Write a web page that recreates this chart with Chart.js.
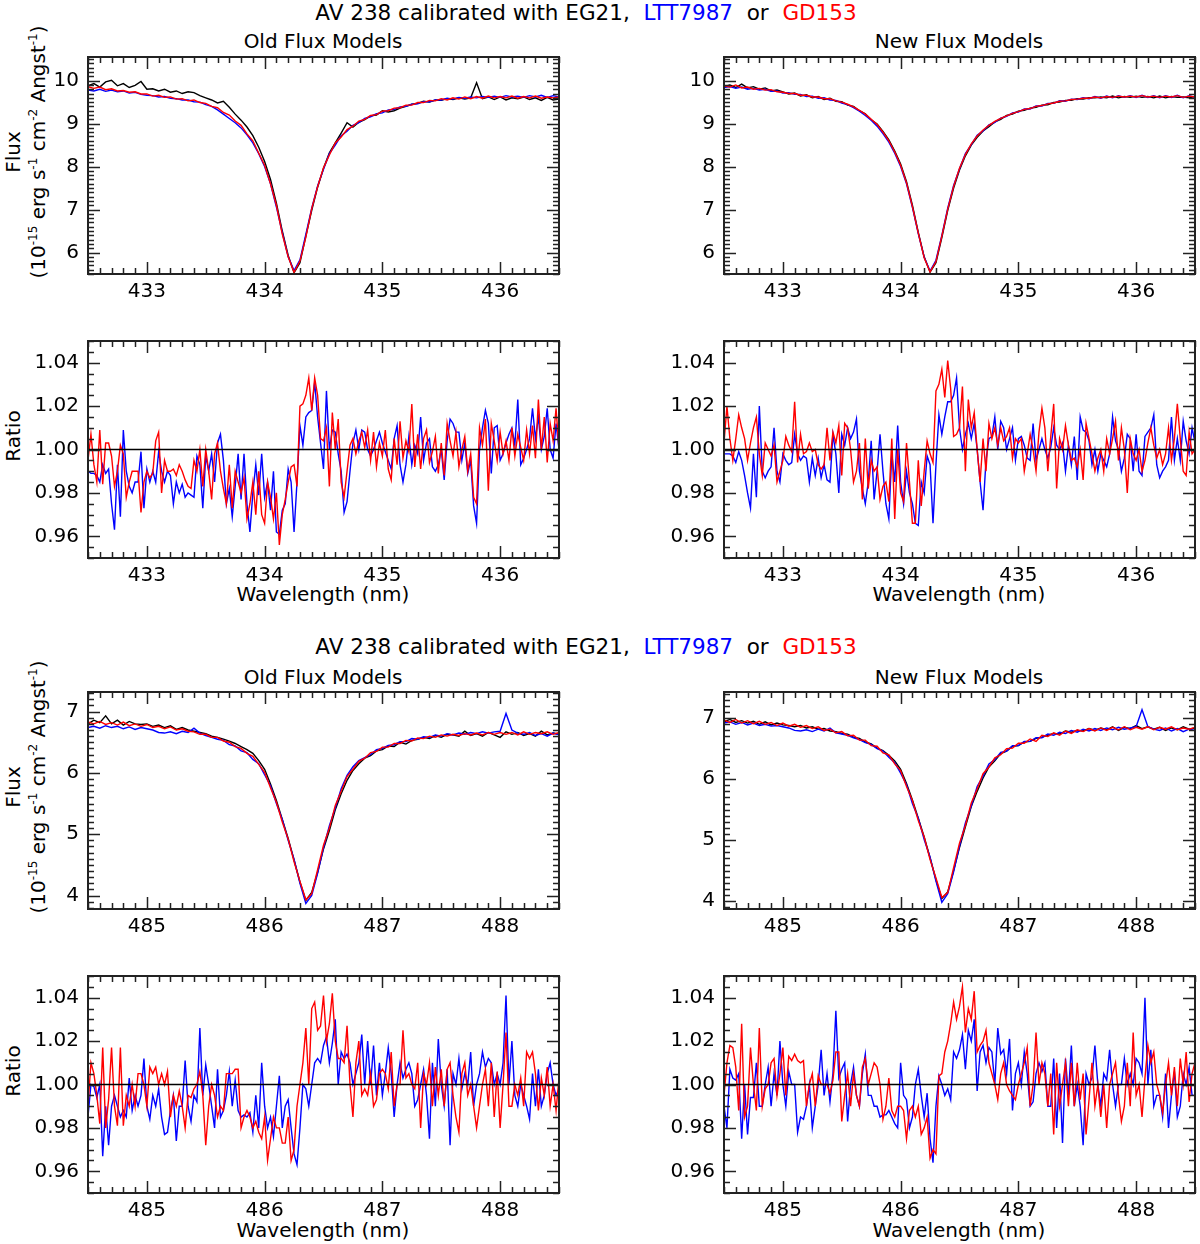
<!DOCTYPE html>
<html>
<head>
<meta charset="utf-8">
<script src="https://cdn.jsdelivr.net/npm/chart.js@4.4.1/dist/chart.umd.min.js"></script>
<style>
  body { margin: 0; background: #fff; width: 1200px; height: 1244px; position: relative; overflow: hidden;
         font-family: "DejaVu Sans", sans-serif; color: #000; }
  canvas { position: absolute; }
  .t { position: absolute; white-space: pre; font-size: 20px; line-height: 1; transform: translate(-50%, -50%); }
  .big { font-size: 21.5px; }
  .v { transform: translate(-50%, -50%) rotate(-90deg); }
  .s { font-size: 12px; position: relative; top: -8px; }
  .blue { color: #0000ff; }
  .red { color: #ff0000; }
</style>
</head>
<body>

<div class="t big" style="left:586px;top:13px">AV 238 calibrated with EG21,  <span class="blue">LTT7987</span>  or  <span class="red">GD153</span></div>
<div class="t" style="left:323px;top:41px">Old Flux Models</div>
<div class="t" style="left:959px;top:41px">New Flux Models</div>
<div class="t big" style="left:586px;top:647px">AV 238 calibrated with EG21,  <span class="blue">LTT7987</span>  or  <span class="red">GD153</span></div>
<div class="t" style="left:323px;top:677px">Old Flux Models</div>
<div class="t" style="left:959px;top:677px">New Flux Models</div>

<div class="t v" style="left:13px;top:152px">Flux</div>
<div class="t v" style="left:38px;top:152px">(10<span class="s">-15</span> erg s<span class="s">-1</span> cm<span class="s">-2</span> Angst<span class="s">-1</span>)</div>
<div class="t v" style="left:13px;top:436px">Ratio</div>
<div class="t v" style="left:13px;top:787px">Flux</div>
<div class="t v" style="left:38px;top:787px">(10<span class="s">-15</span> erg s<span class="s">-1</span> cm<span class="s">-2</span> Angst<span class="s">-1</span>)</div>
<div class="t v" style="left:13px;top:1071px">Ratio</div>

<div class="t" style="left:323px;top:594px">Wavelength (nm)</div>
<div class="t" style="left:959px;top:594px">Wavelength (nm)</div>
<div class="t" style="left:323px;top:1230px">Wavelength (nm)</div>
<div class="t" style="left:959px;top:1230px">Wavelength (nm)</div>

<canvas id="fluxHgOld"></canvas>
<canvas id="fluxHgNew"></canvas>
<canvas id="ratioHgOld"></canvas>
<canvas id="ratioHgNew"></canvas>
<canvas id="fluxHbOld"></canvas>
<canvas id="fluxHbNew"></canvas>
<canvas id="ratioHbOld"></canvas>
<canvas id="ratioHbNew"></canvas>

<script>
// ---- wavelength grids (nm) ----
function grid(start, step, n) {
  const out = [];
  for (let i = 0; i < n; i++) out.push(+(start + i * step).toFixed(3));
  return out;
}
const wlFluxHg = grid(432.5, 0.05, 81);
const wlFluxHb = grid(484.5, 0.05, 81);
const wlRatioHg = grid(432.5, 0.025, 161);
const wlRatioHb = grid(484.5, 0.025, 161);

// ---- tick labels ----
const wlTicksHg = [433, 434, 435, 436];
const wlTicksHb = [485, 486, 487, 488];
const fluxTicksHg = [6, 7, 8, 9, 10];
const fluxTicksHb = [4, 5, 6, 7];
const ratioTicks = [0.96, 0.98, 1.00, 1.02, 1.04];

// ---- H gamma flux, old models (1e-15 erg/s/cm2/A) ----
const fluxHgOldEG21 = [
  9.88,9.93,9.85,9.97,10.01,9.88,9.93,9.84,9.89,9.98,
  9.80,9.81,9.76,9.80,9.73,9.76,9.70,9.74,9.72,9.65,
  9.60,9.55,9.48,9.52,9.38,9.22,9.08,8.92,8.72,8.45,
  8.12,7.70,7.15,6.50,5.93,5.53,5.76,6.38,6.98,7.52,
  7.96,8.32,8.55,8.78,9.02,8.92,9.03,9.09,9.18,9.20,
  9.30,9.27,9.30,9.36,9.40,9.45,9.47,9.52,9.50,9.55,
  9.54,9.58,9.56,9.60,9.57,9.60,9.95,9.58,9.62,9.56,
  9.62,9.55,9.60,9.58,9.62,9.56,9.60,9.54,9.61,9.55,9.57];
const fluxHgOldLTT7987 = [
  9.78,9.76,9.80,9.75,9.78,9.74,9.76,9.71,9.73,9.68,
  9.66,9.65,9.62,9.63,9.59,9.58,9.55,9.55,9.51,9.50,
  9.44,9.40,9.32,9.22,9.12,9.02,8.90,8.74,8.55,8.30,
  8.00,7.60,7.06,6.46,5.90,5.58,5.83,6.42,7.03,7.55,
  7.94,8.30,8.50,8.72,8.82,8.96,9.02,9.12,9.16,9.23,
  9.25,9.32,9.33,9.39,9.40,9.45,9.46,9.51,9.51,9.55,
  9.55,9.59,9.57,9.61,9.59,9.62,9.60,9.63,9.61,9.64,
  9.61,9.65,9.62,9.64,9.61,9.65,9.62,9.66,9.61,9.65,9.62];
const fluxHgOldGD153 = [
  9.86,9.82,9.85,9.79,9.81,9.76,9.77,9.73,9.74,9.69,
  9.69,9.64,9.66,9.61,9.62,9.57,9.58,9.53,9.55,9.49,
  9.47,9.40,9.37,9.26,9.20,9.06,8.96,8.76,8.60,8.31,
  8.03,7.60,7.10,6.43,5.90,5.54,5.80,6.36,7.02,7.53,
  7.97,8.27,8.55,8.69,8.86,8.94,9.06,9.10,9.19,9.21,
  9.29,9.30,9.36,9.37,9.43,9.43,9.49,9.49,9.54,9.53,
  9.58,9.55,9.60,9.57,9.62,9.58,9.63,9.59,9.64,9.60,
  9.63,9.60,9.64,9.59,9.63,9.60,9.64,9.59,9.62,9.60,9.62];

// ---- H gamma flux, new models ----
const fluxHgNewEG21 = [
  9.86,9.90,9.84,9.92,9.83,9.86,9.80,9.83,9.76,9.78,
  9.74,9.69,9.71,9.64,9.67,9.60,9.63,9.56,9.59,9.52,
  9.51,9.43,9.40,9.30,9.23,9.09,8.99,8.82,8.62,8.36,
  8.06,7.65,7.10,6.47,5.90,5.54,5.76,6.35,6.98,7.50,
  7.92,8.25,8.50,8.68,8.83,8.93,9.04,9.10,9.19,9.22,
  9.29,9.31,9.36,9.38,9.43,9.44,9.49,9.50,9.54,9.54,
  9.58,9.57,9.60,9.60,9.62,9.60,9.64,9.60,9.63,9.61,
  9.64,9.61,9.63,9.60,9.64,9.60,9.63,9.61,9.62,9.60,9.63];
const fluxHgNewLTT7987 = [
  9.84,9.86,9.82,9.85,9.80,9.82,9.78,9.80,9.75,9.76,
  9.71,9.72,9.68,9.68,9.63,9.64,9.59,9.60,9.55,9.54,
  9.48,9.44,9.37,9.29,9.19,9.08,8.94,8.77,8.57,8.31,
  8.00,7.60,7.05,6.44,5.89,5.57,5.82,6.40,7.03,7.56,
  7.95,8.30,8.51,8.73,8.83,8.97,9.03,9.13,9.17,9.25,
  9.27,9.34,9.34,9.41,9.41,9.47,9.47,9.53,9.52,9.57,
  9.56,9.60,9.58,9.63,9.59,9.64,9.60,9.65,9.61,9.65,
  9.61,9.66,9.61,9.65,9.60,9.65,9.61,9.66,9.60,9.65,9.61];
const fluxHgNewGD153 = [
  9.88,9.85,9.90,9.83,9.85,9.80,9.82,9.78,9.79,9.74,
  9.73,9.70,9.70,9.66,9.66,9.62,9.62,9.58,9.58,9.53,
  9.50,9.45,9.39,9.31,9.22,9.10,8.98,8.80,8.60,8.34,
  8.03,7.62,7.07,6.45,5.88,5.55,5.79,6.38,7.01,7.54,
  7.96,8.28,8.53,8.71,8.85,8.96,9.05,9.12,9.18,9.24,
  9.28,9.33,9.35,9.40,9.42,9.46,9.48,9.52,9.53,9.56,
  9.57,9.59,9.59,9.62,9.60,9.63,9.61,9.64,9.62,9.64,
  9.62,9.65,9.62,9.64,9.61,9.64,9.62,9.65,9.61,9.64,9.62];

// ---- H beta flux, old models ----
const fluxHbOldEG21 = [
  6.80,6.86,6.82,6.93,6.80,6.86,6.78,6.84,6.80,6.79,
  6.80,6.76,6.78,6.74,6.77,6.71,6.74,6.70,6.68,6.66,
  6.64,6.60,6.58,6.55,6.52,6.48,6.43,6.38,6.32,6.20,
  6.06,5.82,5.55,5.24,4.93,4.58,4.22,3.92,4.05,4.38,
  4.76,5.06,5.40,5.66,5.88,6.04,6.15,6.24,6.28,6.36,
  6.38,6.44,6.43,6.50,6.47,6.53,6.55,6.58,6.56,6.61,
  6.58,6.63,6.62,6.60,6.68,6.61,6.64,6.60,6.66,6.62,
  6.58,6.67,6.63,6.66,6.61,6.64,6.60,6.68,6.62,6.65,6.63];
const fluxHbOldLTT7987 = [
  6.74,6.76,6.73,6.77,6.74,6.76,6.72,6.75,6.71,6.74,
  6.72,6.70,6.66,6.65,6.67,6.64,6.68,6.66,6.73,6.65,
  6.61,6.58,6.55,6.53,6.46,6.44,6.36,6.33,6.22,6.15,
  5.97,5.79,5.50,5.24,4.90,4.59,4.20,3.87,4.00,4.36,
  4.78,5.14,5.43,5.74,5.96,6.10,6.20,6.25,6.30,6.38,
  6.40,6.45,6.46,6.51,6.51,6.56,6.55,6.59,6.58,6.62,
  6.60,6.64,6.62,6.65,6.63,6.66,6.64,6.67,6.65,6.67,
  6.68,6.97,6.70,6.65,6.63,6.66,6.61,6.64,6.60,6.65,6.62];
const fluxHbOldGD153 = [
  6.83,6.80,6.84,6.79,6.82,6.78,6.83,6.77,6.80,6.76,
  6.79,6.74,6.76,6.72,6.75,6.70,6.72,6.68,6.67,6.63,
  6.63,6.58,6.58,6.52,6.50,6.43,6.40,6.32,6.27,6.14,
  6.01,5.76,5.52,5.20,4.92,4.55,4.23,3.93,4.03,4.42,
  4.82,5.10,5.47,5.70,5.94,6.06,6.19,6.24,6.33,6.35,
  6.42,6.42,6.48,6.48,6.53,6.52,6.57,6.56,6.60,6.58,
  6.62,6.60,6.63,6.61,6.64,6.62,6.65,6.62,6.66,6.63,
  6.66,6.63,6.66,6.62,6.67,6.63,6.66,6.64,6.67,6.63,6.66];

// ---- H beta flux, new models ----
const fluxHbNewEG21 = [
  6.94,6.98,6.93,6.96,6.92,6.95,6.90,6.94,6.89,6.92,
  6.89,6.88,6.86,6.88,6.84,6.86,6.82,6.83,6.79,6.78,
  6.75,6.74,6.69,6.67,6.61,6.58,6.51,6.47,6.39,6.30,
  6.16,5.93,5.66,5.36,5.05,4.71,4.35,4.04,4.15,4.50,
  4.88,5.22,5.55,5.80,6.02,6.20,6.30,6.42,6.46,6.54,
  6.55,6.61,6.62,6.67,6.69,6.72,6.75,6.74,6.79,6.77,
  6.80,6.79,6.83,6.80,6.84,6.81,6.86,6.80,6.85,6.83,
  6.88,6.83,6.86,6.82,6.85,6.80,6.84,6.81,6.86,6.82,6.84];
const fluxHbNewLTT7987 = [
  6.92,6.94,6.90,6.93,6.89,6.92,6.88,6.90,6.87,6.88,
  6.86,6.84,6.80,6.79,6.81,6.78,6.82,6.79,6.84,6.76,
  6.74,6.72,6.68,6.65,6.60,6.57,6.50,6.46,6.36,6.27,
  6.10,5.91,5.60,5.36,5.01,4.72,4.33,3.98,4.12,4.48,
  4.90,5.28,5.56,5.88,6.05,6.25,6.32,6.44,6.46,6.55,
  6.55,6.62,6.62,6.68,6.68,6.74,6.72,6.77,6.75,6.80,
  6.77,6.82,6.79,6.83,6.80,6.84,6.81,6.85,6.82,6.84,
  6.86,7.14,6.86,6.82,6.80,6.84,6.79,6.83,6.78,6.82,6.80];
const fluxHbNewGD153 = [
  6.97,6.93,6.98,6.92,6.96,6.91,6.95,6.90,6.93,6.88,
  6.92,6.87,6.90,6.85,6.88,6.83,6.86,6.80,6.82,6.76,
  6.78,6.71,6.72,6.64,6.64,6.55,6.54,6.43,6.40,6.25,
  6.14,5.88,5.65,5.32,5.05,4.68,4.38,4.06,4.14,4.55,
  4.95,5.24,5.61,5.84,6.09,6.20,6.35,6.40,6.50,6.51,
  6.59,6.59,6.66,6.62,6.72,6.70,6.76,6.72,6.79,6.75,
  6.81,6.78,6.83,6.79,6.84,6.80,6.85,6.81,6.86,6.81,
  6.85,6.82,6.86,6.81,6.85,6.82,6.86,6.81,6.84,6.82,6.85];

// ---- ratios to the EG21 calibration ----
const ratioHgOldLTT7987 = [
  0.990,0.989,0.989,0.988,0.985,0.993,0.989,0.991,0.975,0.963,
  0.993,0.969,1.009,0.990,0.983,0.980,0.985,0.985,0.999,0.973,
  0.991,0.985,0.990,0.985,0.999,0.990,0.985,0.990,0.988,0.975,
  0.985,0.980,0.984,0.978,0.980,0.979,0.978,0.997,0.993,0.973,
  0.997,0.990,0.998,0.985,1.003,1.007,0.995,0.975,0.982,0.969,
  0.983,0.998,0.977,0.998,0.975,0.962,0.980,0.993,0.979,0.998,
  0.978,0.985,0.972,0.990,0.962,0.961,0.972,0.975,0.991,0.985,
  0.962,0.985,1.011,1.002,1.015,1.017,1.018,1.031,1.015,1.003,
  0.991,1.027,1.000,1.009,1.008,0.998,0.990,0.971,0.976,0.990,
  1.003,1.009,1.000,1.009,1.008,1.000,0.997,1.000,1.004,1.008,
  1.003,0.999,0.995,0.991,1.005,1.011,0.993,0.985,0.993,1.006,
  0.993,1.002,0.998,1.015,0.995,1.003,1.005,0.992,0.990,0.993,
  1.000,0.986,1.004,1.014,1.012,1.008,1.008,0.995,1.003,0.989,
  0.995,0.974,0.966,1.000,1.010,1.018,1.012,0.989,1.010,1.011,
  0.995,0.998,1.003,1.007,1.010,1.002,1.023,0.993,0.996,1.000,
  1.005,1.019,1.005,1.015,1.000,1.006,1.019,1.000,0.996,1.012,1.000];
const ratioHgOldGD153 = [
  0.995,1.007,0.993,0.985,1.009,0.984,1.003,1.003,0.997,0.983,
  0.990,1.002,0.998,0.978,0.985,0.990,0.990,0.990,0.971,0.985,
  0.990,0.987,0.989,1.004,1.008,0.980,0.995,0.990,0.990,0.991,
  0.988,0.993,0.990,0.986,0.983,0.982,0.995,0.990,1.000,0.983,
  1.000,0.990,0.977,0.998,1.003,0.990,0.982,0.975,0.993,0.973,
  0.990,0.985,0.980,0.987,0.968,0.975,0.985,0.970,0.990,0.970,
  0.966,0.985,0.978,0.968,0.980,0.956,0.970,0.977,0.985,0.992,
  0.993,0.983,1.020,1.021,1.025,1.033,1.018,1.033,1.025,1.005,
  1.004,1.010,0.983,1.017,1.000,1.014,0.985,0.978,0.990,1.002,
  1.005,0.998,1.004,1.008,1.001,1.009,0.995,1.008,0.992,1.003,
  0.997,1.009,0.991,0.986,1.005,0.993,1.013,0.996,1.004,0.999,
  1.021,0.992,1.007,0.991,1.005,1.009,0.994,0.999,1.006,0.989,
  1.003,0.988,1.012,1.004,0.997,1.008,0.992,1.000,1.006,0.990,
  0.998,0.978,0.975,1.010,1.002,1.014,0.981,1.012,1.004,0.995,
  1.008,0.998,1.004,0.995,1.010,0.997,1.007,1.001,0.995,1.009,
  0.998,1.011,0.996,1.023,1.000,1.015,0.994,1.012,1.004,1.019,1.000];
const ratioHgNewLTT7987 = [
  0.998,0.998,0.998,0.997,0.994,0.999,0.995,0.988,0.980,0.973,
  0.998,0.978,1.020,0.990,0.987,0.990,0.992,1.010,0.990,0.985,
  0.998,0.995,0.993,0.994,1.007,0.998,0.995,0.997,0.996,0.985,
  0.996,0.988,0.996,0.987,0.993,0.986,0.985,1.007,0.998,0.980,
  1.007,1.002,1.010,1.005,1.008,1.014,0.990,0.982,0.975,0.985,
  1.004,0.977,0.990,1.007,0.990,0.975,0.968,0.998,0.985,1.011,
  0.985,0.975,0.990,0.980,0.975,0.966,0.965,0.985,0.980,0.997,
  0.993,0.966,0.993,1.016,1.007,1.015,1.022,1.022,1.025,1.033,
  1.010,1.000,1.007,1.012,1.005,1.012,1.000,0.985,0.972,0.995,
  1.005,1.006,1.015,1.000,1.013,1.010,1.000,1.005,1.010,0.995,
  1.005,1.006,1.002,0.996,0.995,1.012,0.995,1.000,1.005,1.000,
  0.996,1.001,1.010,1.002,1.000,1.003,0.990,1.002,0.993,1.006,
  0.986,1.015,1.009,1.008,1.004,0.993,1.000,0.990,0.998,0.995,
  0.992,0.998,1.015,1.004,1.000,0.990,0.996,1.007,1.005,0.990,
  1.007,0.990,0.988,1.006,1.008,1.010,1.016,0.993,0.987,0.990,
  0.992,0.995,1.015,0.995,1.005,0.995,1.013,1.004,0.998,1.010,1.003];
const ratioHgNewGD153 = [
  1.003,1.020,1.005,0.995,1.005,1.016,1.010,1.005,0.995,1.003,
  1.010,1.015,0.998,0.988,1.003,1.000,0.997,1.002,0.985,0.990,
  0.995,1.006,1.002,0.999,1.022,0.994,1.007,0.998,0.999,1.003,
  0.999,1.000,0.993,0.991,0.993,1.010,0.995,1.008,1.003,1.011,
  0.988,1.012,1.010,1.000,0.985,0.990,1.003,0.977,1.005,0.982,
  0.995,0.990,0.992,0.977,0.983,0.985,0.976,1.005,0.968,1.000,
  0.980,0.976,1.003,0.985,0.966,0.966,0.995,0.974,0.990,1.004,
  0.998,0.994,1.027,1.030,1.037,1.024,1.041,1.028,1.006,1.007,
  1.010,1.029,0.990,1.023,1.010,1.017,1.000,0.985,1.005,0.990,
  1.012,1.005,1.010,1.002,1.010,1.004,1.006,1.010,0.996,1.005,
  1.003,1.005,0.990,0.998,1.007,1.000,0.990,1.008,1.019,1.010,
  0.990,1.006,1.021,0.982,1.005,1.000,1.011,1.002,0.995,0.996,
  0.992,1.000,0.986,1.012,1.005,0.998,0.990,0.996,1.000,0.990,
  1.005,0.998,1.005,1.013,0.995,1.010,1.000,0.980,1.005,0.998,
  0.995,1.000,0.990,0.995,1.003,1.010,1.002,0.996,1.000,0.993,
  0.998,1.010,0.995,1.005,1.021,1.005,0.990,0.988,1.008,0.998,1.000];
const ratioHbOldLTT7987 = [
  0.985,1.000,0.999,0.994,1.000,0.967,0.990,0.972,0.990,0.995,
  0.990,0.985,0.988,0.985,1.003,0.988,0.995,0.990,0.995,1.012,
  0.990,0.984,0.995,0.990,0.998,0.985,0.977,0.978,0.988,0.995,
  0.974,0.990,0.990,1.011,0.990,0.983,0.995,0.992,1.026,0.995,
  1.009,1.000,0.990,0.980,1.007,0.985,0.988,0.995,1.006,0.990,
  1.002,0.988,0.985,0.986,0.985,0.987,0.978,0.995,0.980,1.010,
  0.990,0.980,0.985,0.976,0.990,1.004,0.980,0.990,0.993,0.980,
  0.968,0.963,0.980,1.000,0.998,0.990,1.000,1.010,1.012,1.010,
  1.018,1.022,1.010,1.019,1.030,1.000,1.015,1.012,1.014,1.010,
  1.000,1.005,1.010,1.023,1.000,1.020,1.000,1.018,0.995,1.010,
  0.995,1.005,1.017,1.005,0.985,1.000,1.010,1.003,1.007,1.010,
  1.005,0.990,0.993,1.000,1.007,0.995,0.975,1.010,0.990,1.021,
  1.000,0.990,1.007,0.972,1.005,1.000,1.012,0.998,1.005,1.000,
  1.015,0.990,1.000,1.005,1.015,1.008,1.012,1.010,1.000,1.005,
  1.000,1.010,1.041,1.000,1.020,0.995,0.990,1.000,0.995,0.990,
  0.984,1.005,0.990,1.007,0.990,0.995,1.005,1.010,1.000,0.995,0.998];
const ratioHbOldGD153 = [
  0.990,1.010,1.005,0.995,0.982,1.017,0.980,0.993,1.017,0.990,
  0.981,1.017,0.981,0.995,0.990,1.000,0.990,1.005,1.005,1.000,
  0.990,1.008,1.005,1.008,1.000,1.005,1.000,1.006,0.985,0.995,
  0.990,0.997,0.990,0.980,0.995,0.994,0.998,1.000,1.006,0.995,
  0.972,0.990,1.000,0.995,0.985,0.990,0.988,1.005,1.005,1.005,
  1.007,1.007,0.980,0.985,0.988,0.985,0.980,0.983,0.978,0.975,
  0.985,0.965,0.975,0.985,0.980,0.980,0.973,0.973,0.985,0.965,
  0.970,0.990,1.000,1.010,1.026,1.000,1.035,1.038,1.025,1.027,
  1.041,1.020,1.028,1.042,1.020,1.012,1.012,1.010,1.027,1.000,
  0.985,1.010,1.020,0.995,0.998,0.995,1.005,0.990,0.993,1.005,
  1.007,1.005,0.998,1.015,0.990,1.000,1.000,1.025,1.003,1.005,
  1.000,0.998,1.010,0.980,1.005,1.000,1.010,0.990,1.008,0.995,
  1.007,0.990,1.007,1.010,0.995,0.985,0.978,1.005,1.010,0.995,
  1.000,0.990,0.980,0.990,1.000,1.007,0.990,1.010,0.985,1.006,
  0.980,1.000,1.024,0.990,0.990,1.000,0.995,1.003,0.990,1.015,
  1.012,1.015,1.005,0.988,1.003,0.995,1.008,0.990,1.000,0.988,1.003];
const ratioHbNewLTT7987 = [
  0.990,0.980,1.007,1.003,1.002,1.005,0.975,1.000,0.977,0.994,
  0.994,1.010,0.990,0.990,1.000,1.008,0.990,1.005,0.995,1.020,
  1.000,0.990,1.006,1.000,1.000,0.978,0.985,0.984,0.990,1.000,
  0.980,0.990,1.000,1.016,0.995,1.005,0.992,1.005,1.034,1.003,
  1.007,1.010,0.983,1.000,1.008,0.995,0.990,1.005,1.014,0.995,
  0.995,0.990,0.990,0.985,0.986,0.986,0.988,0.985,0.982,0.980,
  1.010,0.995,0.993,0.980,0.985,1.000,1.007,0.995,0.985,0.996,
  0.975,0.964,0.990,1.004,1.000,0.995,0.998,0.993,1.015,1.012,
  1.016,1.023,1.007,1.025,1.020,1.030,0.997,1.015,1.018,1.010,
  1.017,1.015,1.000,1.026,1.014,1.016,1.005,1.021,0.988,1.005,
  1.010,1.000,1.015,1.005,0.990,0.992,1.005,1.010,1.006,1.010,
  0.990,0.990,1.012,0.980,1.005,0.973,1.012,0.995,1.018,0.990,
  1.000,0.990,0.972,1.005,1.000,1.003,1.018,1.000,0.990,1.005,
  1.002,1.016,1.000,0.990,1.000,1.000,1.012,1.000,1.005,1.000,
  1.012,1.010,1.005,1.040,1.000,1.016,0.990,0.995,0.995,0.985,
  1.005,0.980,0.995,1.006,0.985,0.990,1.005,1.000,1.008,0.995,0.995];
const ratioHbNewGD153 = [
  0.995,1.010,1.018,1.017,1.008,0.988,1.028,0.985,0.990,1.017,
  1.000,0.988,1.026,0.990,0.998,1.000,1.010,1.012,0.995,1.005,
  1.017,0.995,1.013,1.011,1.014,1.011,1.010,1.011,0.990,1.000,
  1.005,0.990,1.004,1.000,1.000,1.000,0.996,1.002,1.015,1.015,
  0.983,0.995,1.005,0.990,1.005,0.995,0.990,1.008,1.012,1.000,
  1.005,1.010,1.008,1.000,0.984,0.990,1.003,0.988,0.985,0.990,
  0.990,0.988,0.975,0.988,0.990,0.985,0.990,0.977,0.980,0.985,
  0.966,0.970,0.968,1.004,1.005,1.015,1.020,1.028,1.038,1.030,
  1.036,1.045,1.024,1.035,1.030,1.043,1.015,1.018,1.020,1.025,
  1.010,1.005,1.000,0.993,1.005,1.010,1.000,0.997,0.995,0.993,
  1.000,1.005,1.010,1.017,0.990,1.000,1.024,1.000,1.010,1.005,
  0.990,1.005,0.977,1.010,0.990,1.000,1.010,0.990,1.010,0.990,
  1.010,0.993,1.005,0.977,0.993,1.010,0.990,1.000,0.985,1.000,
  0.980,1.000,1.005,1.010,0.995,0.983,0.990,1.010,0.990,1.024,
  0.995,1.000,0.985,1.003,1.018,1.010,1.015,1.000,0.995,0.987,
  1.000,1.010,0.995,1.008,0.990,1.012,1.000,1.015,0.992,1.005,1.010];
const unity = [1, 1];

// ---- drawing ----
const FONT = { family: "DejaVu Sans", size: 20 };
const PW = 471, PH = 217;      // plot box size in px
const PAD_L = 80, PAD_T = 12, PAD_R = 12, AXIS_H = 42;
const BLUE = "#0000ff", RED = "#ff0000", BLACK = "#000000";

function stepValues(min, max, step) {
  const out = [];
  for (let i = Math.ceil(min / step - 1e-6); i * step <= max + 1e-9; i++) out.push(+(i * step).toFixed(4));
  return out;
}

const framePlugin = {
  id: "frame",
  afterDatasetsDraw(chart, args, o) {
    const { ctx, chartArea: a, scales: { x, y } } = chart;
    ctx.save();
    ctx.strokeStyle = "#222";
    ctx.lineWidth = 1.5;
    ctx.beginPath();
    const isMajor = (v, majors) => majors.some(m => Math.abs(m - v) < 1e-6);
    stepValues(x.min, x.max, o.xMinor).forEach(v => {
      const px = Math.round(x.getPixelForValue(v)) + 0.5;
      const len = isMajor(v, o.xMajor) ? 12 : 6;
      ctx.moveTo(px, a.bottom); ctx.lineTo(px, a.bottom - len);
      ctx.moveTo(px, a.top); ctx.lineTo(px, a.top + len);
    });
    stepValues(y.min, y.max, o.yMinor).forEach(v => {
      const py = Math.round(y.getPixelForValue(v)) + 0.5;
      const len = isMajor(v, o.yMajor) ? 12 : 6;
      ctx.moveTo(a.left, py); ctx.lineTo(a.left + len, py);
      ctx.moveTo(a.right, py); ctx.lineTo(a.right - len, py);
    });
    ctx.stroke();
    ctx.lineWidth = 2;
    ctx.strokeRect(a.left, a.top, a.right - a.left, a.bottom - a.top);
    ctx.restore();
  }
};

function series(wl, vals, color) {
  return { data: wl.map((w, i) => ({ x: w, y: vals[i] })), borderColor: color, borderWidth: 1.4 };
}

function panel(id, left, top, xr, yr, xMajor, yMajor, xMinor, yMinor, yFmt, datasets) {
  const cv = document.getElementById(id);
  cv.width = PAD_L + PW + PAD_R;
  cv.height = PAD_T + PH + AXIS_H;
  cv.style.left = (left - PAD_L) + "px";
  cv.style.top = (top - PAD_T) + "px";
  new Chart(cv, {
    type: "line",
    data: { datasets },
    plugins: [framePlugin],
    options: {
      responsive: false,
      animation: false,
      events: [],
      layout: { padding: { top: PAD_T, right: PAD_R, left: 0, bottom: 0 } },
      elements: { point: { radius: 0 }, line: { tension: 0 } },
      plugins: {
        legend: { display: false },
        tooltip: { enabled: false },
        frame: { xMajor, yMajor, xMinor, yMinor }
      },
      scales: {
        x: {
          type: "linear", min: xr[0], max: xr[1],
          grid: { display: false, drawTicks: false }, border: { display: false },
          afterBuildTicks: s => { s.ticks = xMajor.map(v => ({ value: v })); },
          afterFit: s => { s.height = AXIS_H; s.paddingLeft = 0; s.paddingRight = 0; },
          ticks: { font: FONT, color: "#000", padding: 6, maxRotation: 0, autoSkip: false,
                   callback: v => String(v) }
        },
        y: {
          type: "linear", min: yr[0], max: yr[1],
          grid: { display: false, drawTicks: false }, border: { display: false },
          afterBuildTicks: s => { s.ticks = yMajor.map(v => ({ value: v })); },
          afterFit: s => { s.width = PAD_L; s.paddingTop = 0; s.paddingBottom = 0; },
          ticks: { font: FONT, color: "#000", padding: 9, autoSkip: false, callback: yFmt }
        }
      }
    }
  });
}

const LX = 88, RX = 724;
const intFmt = v => String(v);
const ratioFmt = v => v.toFixed(2);
const HG = [432.5, 436.5], HB = [484.5, 488.5];
const RATIO_RANGE = [0.95, 1.05];

panel("fluxHgOld", LX, 57, HG, [5.5, 10.55], wlTicksHg, fluxTicksHg, 0.1, 0.1, intFmt, [
  series(wlFluxHg, fluxHgOldGD153, RED),
  series(wlFluxHg, fluxHgOldLTT7987, BLUE),
  series(wlFluxHg, fluxHgOldEG21, BLACK)]);
panel("fluxHgNew", RX, 57, HG, [5.5, 10.55], wlTicksHg, fluxTicksHg, 0.1, 0.1, intFmt, [
  series(wlFluxHg, fluxHgNewGD153, RED),
  series(wlFluxHg, fluxHgNewLTT7987, BLUE),
  series(wlFluxHg, fluxHgNewEG21, BLACK)]);
panel("ratioHgOld", LX, 341, HG, RATIO_RANGE, wlTicksHg, ratioTicks, 0.1, 0.005, ratioFmt, [
  series(HG, unity, BLACK),
  series(wlRatioHg, ratioHgOldGD153, RED),
  series(wlRatioHg, ratioHgOldLTT7987, BLUE)]);
panel("ratioHgNew", RX, 341, HG, RATIO_RANGE, wlTicksHg, ratioTicks, 0.1, 0.005, ratioFmt, [
  series(HG, unity, BLACK),
  series(wlRatioHg, ratioHgNewGD153, RED),
  series(wlRatioHg, ratioHgNewLTT7987, BLUE)]);
panel("fluxHbOld", LX, 692, HB, [3.78, 7.32], wlTicksHb, fluxTicksHb, 0.1, 0.1, intFmt, [
  series(wlFluxHb, fluxHbOldGD153, RED),
  series(wlFluxHb, fluxHbOldLTT7987, BLUE),
  series(wlFluxHb, fluxHbOldEG21, BLACK)]);
panel("fluxHbNew", RX, 692, HB, [3.87, 7.43], wlTicksHb, fluxTicksHb, 0.1, 0.1, intFmt, [
  series(wlFluxHb, fluxHbNewGD153, RED),
  series(wlFluxHb, fluxHbNewLTT7987, BLUE),
  series(wlFluxHb, fluxHbNewEG21, BLACK)]);
panel("ratioHbOld", LX, 976, HB, RATIO_RANGE, wlTicksHb, ratioTicks, 0.1, 0.005, ratioFmt, [
  series(HB, unity, BLACK),
  series(wlRatioHb, ratioHbOldGD153, RED),
  series(wlRatioHb, ratioHbOldLTT7987, BLUE)]);
panel("ratioHbNew", RX, 976, HB, RATIO_RANGE, wlTicksHb, ratioTicks, 0.1, 0.005, ratioFmt, [
  series(HB, unity, BLACK),
  series(wlRatioHb, ratioHbNewGD153, RED),
  series(wlRatioHb, ratioHbNewLTT7987, BLUE)]);
</script>
</body>
</html>
